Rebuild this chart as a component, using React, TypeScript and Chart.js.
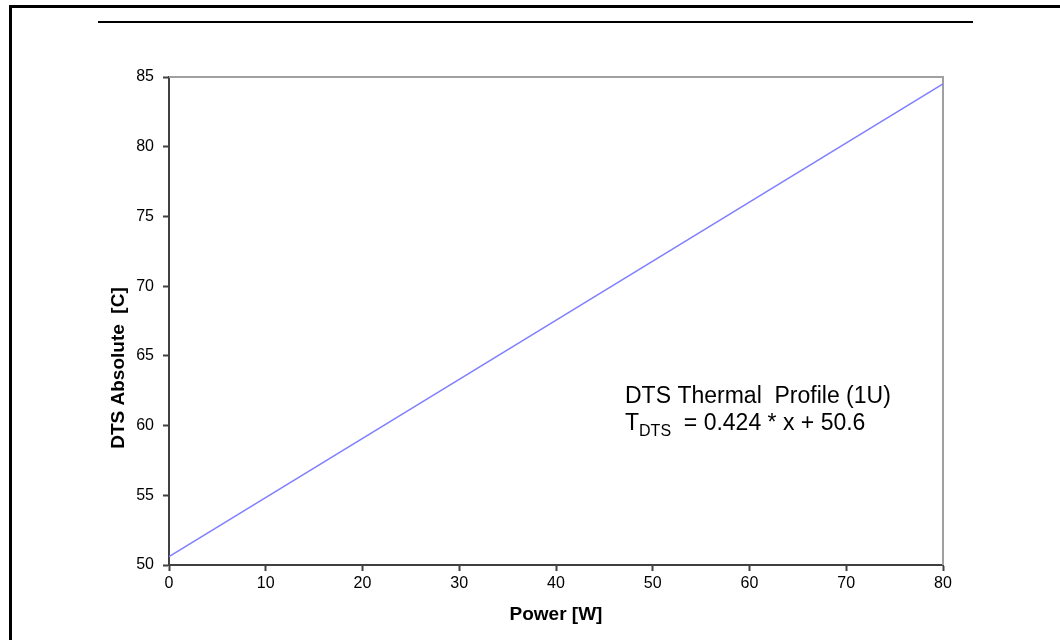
import React, { useEffect, useRef } from "react";
import { Chart, registerables } from "chart.js";

Chart.register(...registerables);

// ---- data ----
const powerW = [0, 80];
const dtsAbsoluteC = [50.6, 84.5];
const xTickValues = [0, 10, 20, 30, 40, 50, 60, 70, 80];
const yTickValues = [50, 55, 60, 65, 70, 75, 80, 85];
const xAxisTitle = "Power [W]";
const yAxisTitle = "DTS Absolute  [C]";
const noteTitle = "DTS Thermal  Profile (1U)";
const noteSymbol = "T";
const noteSubscript = "DTS";
const noteFormula = "  = 0.424 * x + 50.6";

const FONT = "'Liberation Sans', Arial, Helvetica, sans-serif";

const decorPlugin = {
  id: "decor",
  beforeDraw(chart: any) {
    const ctx = chart.ctx;
    ctx.save();
    ctx.fillStyle = "#ffffff";
    ctx.fillRect(0, 0, chart.width, chart.height);
    // outer frame
    ctx.fillStyle = "#000000";
    ctx.fillRect(9, 5, 1051, 3);
    ctx.fillRect(9, 5, 3, 635);
    // header rule
    ctx.fillRect(98, 21, 875, 2);
    ctx.restore();
  },
  beforeDatasetsDraw(chart: any) {
    const { ctx, chartArea } = chart;
    ctx.save();
    ctx.strokeStyle = "#a0a0a0";
    ctx.lineWidth = 2;
    ctx.beginPath();
    ctx.moveTo(chartArea.left, chartArea.top);
    ctx.lineTo(chartArea.right, chartArea.top);
    ctx.lineTo(chartArea.right, chartArea.bottom);
    ctx.stroke();
    ctx.restore();
  },
  afterDraw(chart: any) {
    const { ctx, chartArea } = chart;
    ctx.save();
    // y axis title
    ctx.fillStyle = "#000000";
    ctx.font = `bold 19px ${FONT}`;
    ctx.textAlign = "center";
    ctx.textBaseline = "middle";
    ctx.translate(chartArea.left - 50, chartArea.top + 291);
    ctx.rotate(-Math.PI / 2);
    ctx.fillText(yAxisTitle, 0, 0);
    ctx.restore();

    // annotation
    ctx.save();
    ctx.fillStyle = "#000000";
    ctx.textAlign = "left";
    ctx.textBaseline = "alphabetic";
    const x0 = chartArea.left + 456;
    const y1 = chartArea.top + 326;
    ctx.font = `23px ${FONT}`;
    ctx.fillText(noteTitle, x0, y1);
    const y2 = y1 + 27;
    ctx.fillText(noteSymbol, x0, y2);
    let x = x0 + ctx.measureText(noteSymbol).width;
    ctx.font = `16px ${FONT}`;
    ctx.fillText(noteSubscript, x, y2 + 6);
    x += ctx.measureText(noteSubscript).width;
    ctx.font = `23px ${FONT}`;
    ctx.fillText(noteFormula, x, y2);
    ctx.restore();
  },
};

export default function App() {
  const ref = useRef<HTMLCanvasElement | null>(null);

  useEffect(() => {
    if (!ref.current) return;
    const chart = new Chart(ref.current, {
      type: "line",
      data: {
        datasets: [
          {
            label: "DTS Thermal Profile (1U)",
            data: powerW.map((p, i) => ({ x: p, y: dtsAbsoluteC[i] })),
            borderColor: "#7f7fff",
            borderWidth: 1.5,
            pointRadius: 0,
            tension: 0,
            fill: false,
          },
        ],
      },
      options: {
        animation: false,
        responsive: false,
        devicePixelRatio: 1,
        layout: { padding: { left: 100, right: 117, top: 77, bottom: 0 } },
        plugins: {
          legend: { display: false },
          tooltip: { enabled: false },
        },
        scales: {
          x: {
            type: "linear",
            min: 0,
            max: 80,
            afterFit: (s: any) => {
              s.height = 75;
            },
            afterBuildTicks: (s: any) => {
              s.ticks = xTickValues.map((v) => ({ value: v }));
            },
            ticks: {
              color: "#000000",
              font: { family: FONT, size: 16 },
              padding: 3,
              maxRotation: 0,
              autoSkip: false,
            },
            grid: {
              display: true,
              drawOnChartArea: false,
              drawTicks: true,
              tickLength: 6,
              tickColor: "#404040",
              tickWidth: 2,
            },
            border: { display: true, color: "#404040", width: 2 },
            title: {
              display: true,
              text: xAxisTitle,
              color: "#000000",
              font: { family: FONT, size: 19, weight: "bold" },
              padding: { top: 0, bottom: 14 },
            },
          },
          y: {
            type: "linear",
            min: 50,
            max: 85,
            afterFit: (s: any) => {
              s.width = 69;
            },
            afterBuildTicks: (s: any) => {
              s.ticks = yTickValues.map((v) => ({ value: v }));
            },
            ticks: {
              color: "#000000",
              font: { family: FONT, size: 16 },
              padding: 9,
              autoSkip: false,
            },
            grid: {
              display: true,
              drawOnChartArea: false,
              drawTicks: true,
              tickLength: 6,
              tickColor: "#404040",
              tickWidth: 2,
            },
            border: { display: true, color: "#404040", width: 2 },
          },
        },
      },
      plugins: [decorPlugin],
    });
    return () => chart.destroy();
  }, []);

  return (
    <div style={{ position: "fixed", left: 0, top: 0, width: 1060, height: 640, background: "#fff" }}>
      <canvas ref={ref} width={1060} height={640} style={{ display: "block", width: 1060, height: 640 }} />
    </div>
  );
}
